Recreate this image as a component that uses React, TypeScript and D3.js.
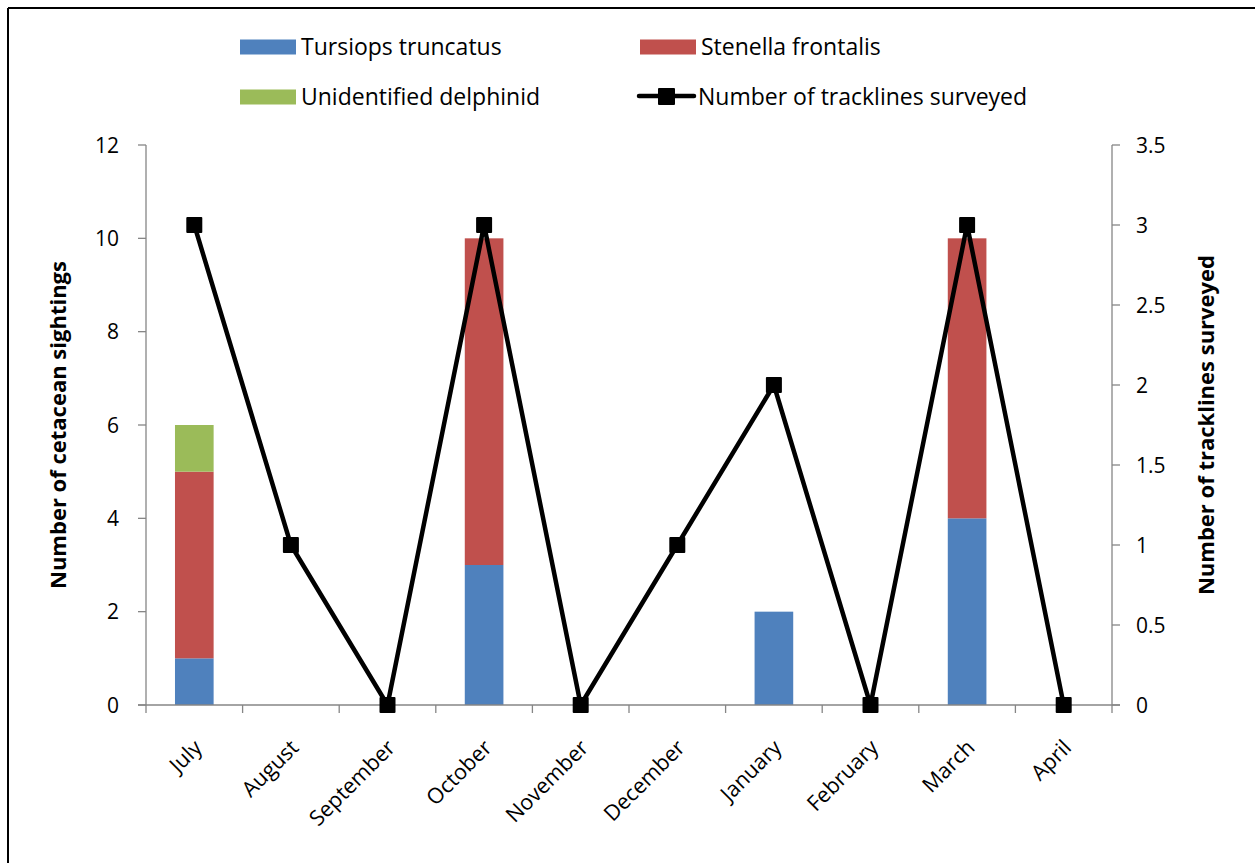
import React from "react";
import * as d3 from "d3";

const months = ["July", "August", "September", "October", "November", "December", "January", "February", "March", "April"];
const tursiops = [1, 0, 0, 3, 0, 0, 2, 0, 4, 0];
const stenella = [4, 0, 0, 7, 0, 0, 0, 0, 6, 0];
const unidentified = [1, 0, 0, 0, 0, 0, 0, 0, 0, 0];
const tracklines = [3, 1, 0, 3, 0, 1, 2, 0, 3, 0];
const leftTicks = [0, 2, 4, 6, 8, 10, 12];
const rightTicks = [0, 0.5, 1, 1.5, 2, 2.5, 3, 3.5];

const seriesNames = ["Tursiops truncatus", "Stenella frontalis", "Unidentified delphinid"];
const colors = ["#4F81BD", "#C0504D", "#9BBB59"];

const FONT = "'Open Sans', sans-serif";

export default function App() {
  const W = 1255, H = 863;
  const x0 = 146, x1 = 1112, yTop = 145, yBot = 705;
  const x = d3.scaleBand<string>().domain(months).range([x0, x1]).paddingInner(0).paddingOuter(0);
  const yL = d3.scaleLinear().domain([0, 12]).range([yBot, yTop]);
  const yR = d3.scaleLinear().domain([0, 3.5]).range([yBot, yTop]);
  const bw = x.bandwidth() * 0.4;

  const rows = months.map((m, i) => ({ m, v: [tursiops[i], stenella[i], unidentified[i]] }));
  const stack = d3.stack<any>().keys(["0", "1", "2"]).value((d: any, k: string) => d.v[+k]);
  const stacked = stack(rows);

  const line = d3.line<number>().x((_, i) => x(months[i])! + x.bandwidth() / 2).y((d) => yR(d));
  const gray = "#868686";
  const ms = 16;

  return (
    <svg width={W} height={H} style={{ position: "absolute", left: 0, top: 0, background: "#fff" }}>
      <rect x={0} y={0} width={W} height={H} fill="#fff" />
      <line x1={8} y1={8} x2={W} y2={8} stroke="#000" strokeWidth={2} />
      <line x1={8} y1={8} x2={8} y2={H} stroke="#000" strokeWidth={2} />

      {/* bars */}
      {stacked.map((s, si) =>
        s.map((d, i) =>
          d[1] - d[0] > 0 ? (
            <rect key={`${si}-${i}`} x={x(months[i])! + (x.bandwidth() - bw) / 2} y={yL(d[1])} width={bw}
              height={yL(d[0]) - yL(d[1])} fill={colors[si]} />
          ) : null
        )
      )}

      {/* axes */}
      <line x1={x0} y1={yTop} x2={x0} y2={yBot} stroke={gray} strokeWidth={1.3} />
      <line x1={x1} y1={yTop} x2={x1} y2={yBot} stroke={gray} strokeWidth={1.3} />
      <line x1={x0 - 8} y1={yBot} x2={x1 + 8} y2={yBot} stroke={gray} strokeWidth={1.3} />
      {leftTicks.map((t) => (
        <g key={"l" + t}>
          <line x1={x0 - 8} x2={x0} y1={yL(t)} y2={yL(t)} stroke={gray} strokeWidth={1.3} />
          <text x={x0 - 27} y={yL(t)} dy="0.36em" textAnchor="end" fontSize={21} fontFamily={FONT} fill="#000">{t}</text>
        </g>
      ))}
      {rightTicks.map((t) => (
        <g key={"r" + t}>
          <line x1={x1} x2={x1 + 8} y1={yR(t)} y2={yR(t)} stroke={gray} strokeWidth={1.3} />
          <text x={x1 + 24} y={yR(t)} dy="0.36em" textAnchor="start" fontSize={21} fontFamily={FONT} fill="#000">{t}</text>
        </g>
      ))}
      {d3.range(months.length + 1).map((i) => {
        const xx = x0 + i * x.bandwidth();
        return <line key={"b" + i} x1={xx} x2={xx} y1={yBot} y2={yBot + 8} stroke={gray} strokeWidth={1.3} />;
      })}
      {months.map((m) => {
        const cx = x(m)! + x.bandwidth() / 2;
        return (
          <text key={m} transform={`translate(${cx + 9},${yBot + 44}) rotate(-45)`} textAnchor="end" fontSize={21.5}
            fontFamily={FONT} fill="#000">{m}</text>
        );
      })}

      {/* line */}
      <path d={line(tracklines)!} fill="none" stroke="#000" strokeWidth={4.5} strokeLinejoin="round" />
      {tracklines.map((v, i) => (
        <rect key={"m" + i} x={x(months[i])! + x.bandwidth() / 2 - ms / 2} y={yR(v) - ms / 2} width={ms} height={ms} fill="#000" rx={1} />
      ))}

      {/* axis titles */}
      <text transform={`translate(66,${(yTop + yBot) / 2}) rotate(-90)`} textAnchor="middle" fontSize={22}
        fontWeight="bold" fontFamily={FONT} fill="#000">Number of cetacean sightings</text>
      <text transform={`translate(1214,${(yTop + yBot) / 2}) rotate(-90)`} textAnchor="middle" fontSize={22}
        fontWeight="bold" fontFamily={FONT} fill="#000">Number of tracklines surveyed</text>

      {/* legend */}
      {[0, 1, 2].map((i) => {
        const lx = i === 1 ? 640 : 240;
        const ly = i === 2 ? 97 : 47;
        return (
          <g key={"lg" + i}>
            <rect x={lx} y={ly - 7.5} width={56} height={15} fill={colors[i]} />
            <text x={lx + 61} y={ly} dy="0.36em" fontSize={23} fontFamily={FONT} fill="#000">{seriesNames[i]}</text>
          </g>
        );
      })}
      <g>
        <line x1={639} x2={694} y1={96} y2={96} stroke="#000" strokeWidth={4.5} strokeLinecap="round" />
        <rect x={658} y={88} width={17} height={17} fill="#000" rx={1} />
        <text x={698} y={97} dy="0.36em" fontSize={23} fontFamily={FONT} fill="#000">Number of tracklines surveyed</text>
      </g>
    </svg>
  );
}
